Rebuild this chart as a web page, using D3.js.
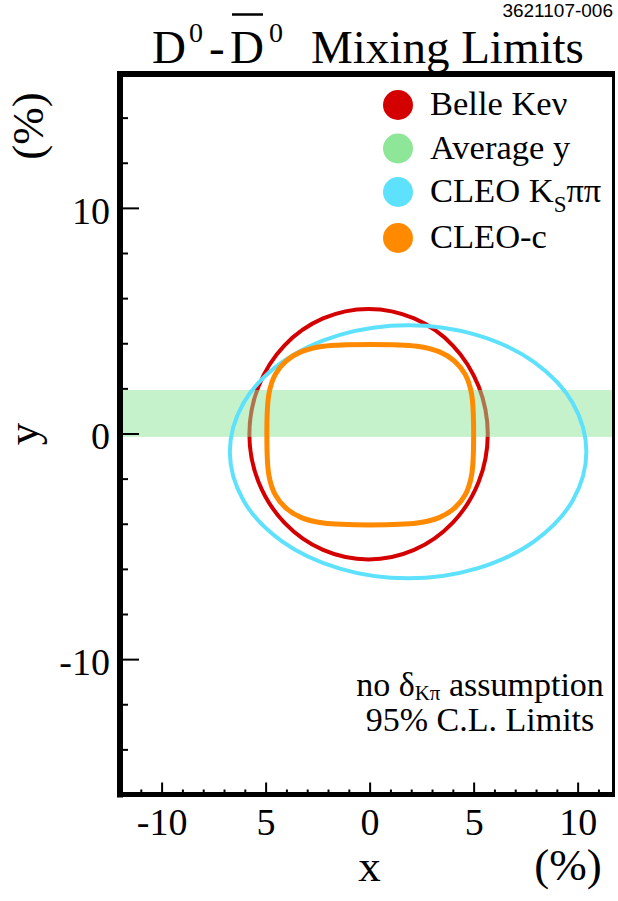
<!DOCTYPE html>
<html>
<head>
<meta charset="utf-8">
<script src="https://d3js.org/d3.v7.min.js"></script>
<style>
    body { margin: 0; background: white; }
    svg text { font-family: 'Liberation Serif', 'Times New Roman', serif; fill: black; }
</style>
</head>
<body>
<svg id="chart" width="618" height="901"></svg>
<script>
    // axis ticks
    var xMajor = [-10, -5, 0, 5, 10];
    var xMajorLabels = ['-10', '5', '0', '5', '10'];
    var xMinor = [-11, -9, -8, -7, -6, -4, -3, -2, -1, 1, 2, 3, 4, 6, 7, 8, 9, 11];
    var yMajor = [-10, 0, 10];
    var yMajorLabels = ['-10', '0', '10'];
    var yMinor = [-14, -12, -8, -6, -4, -2, 2, 4, 6, 8, 12, 14];

    // legend
    var legendNames = ['Belle Keν', 'Average y', 'CLEO K', 'CLEO-c'];
    var legendColors = ['#d40000', '#8ee698', '#5ee1fc', '#ff8a00'];

    // average y band (%)
    var bandY = [-0.15, 1.93];

    // Belle K e nu 95% contour (x %, y %)
    var belleX = [5.68, 5.24, 4.0, 2.14, -0.05, -2.24, -4.1, -5.34, -5.78, -5.34, -4.1, -2.24, -0.05, 2.14, 4.0, 5.24];
    var belleY = [-0.03, 2.09, 3.9, 5.10, 5.52, 5.10, 3.9, 2.09, -0.03, -2.15, -3.95, -5.16, -5.58, -5.16, -3.95, -2.15];

    // CLEO Ks pi pi contour
    var ksX = [10.42, 9.77, 7.91, 5.13, 1.85, -1.43, -4.21, -6.07, -6.72, -6.07, -4.21, -1.43, 1.85, 5.13, 7.91, 9.77];
    var ksY = [-0.81, 1.34, 3.16, 4.37, 4.80, 4.37, 3.16, 1.34, -0.81, -2.96, -4.78, -5.99, -6.42, -5.99, -4.78, -2.96];

    // CLEO-c contour
    var ccX = [5.0, 4.90, 4.60, 4.08, 3.34, 2.28, 0.03, -2.22, -3.28, -4.02, -4.54, -4.84, -4.94, -4.84, -4.54, -4.02, -3.28, -2.22, 0.03, 2.28, 3.34, 4.08, 4.60, 4.90];
    var ccY = [-0.05, 1.76, 2.61, 3.21, 3.63, 3.87, 3.95, 3.87, 3.63, 3.21, 2.61, 1.76, -0.05, -1.86, -2.71, -3.31, -3.73, -3.97, -4.05, -3.97, -3.73, -3.31, -2.71, -1.86];

    var svg = d3.select('#chart');
    var x = d3.scaleLinear().domain([-12, 11.7]).range([120, 613]);
    var y = d3.scaleLinear().domain([-16, 16]).range([794.5, 72.5]);

    function pts(xs, ys) { return xs.map(function (v, i) { return [v, ys[i]]; }); }
    var line = d3.line()
        .x(function (d) { return x(d[0]); })
        .y(function (d) { return y(d[1]); })
        .curve(d3.curveCatmullRomClosed.alpha(0.5));

    // contours and band
    svg.append('path').attr('d', line(pts(belleX, belleY)))
        .attr('fill', 'none').attr('stroke', legendColors[0]).attr('stroke-width', 4);
    svg.append('rect')
        .attr('x', x(-12)).attr('width', x(11.7) - x(-12))
        .attr('y', y(bandY[1])).attr('height', y(bandY[0]) - y(bandY[1]))
        .attr('fill', legendColors[1]).attr('fill-opacity', 0.5);
    svg.append('path').attr('d', line(pts(ksX, ksY)))
        .attr('fill', 'none').attr('stroke', legendColors[2]).attr('stroke-width', 4);
    svg.append('path').attr('d', line(pts(ccX, ccY)))
        .attr('fill', 'none').attr('stroke', legendColors[3]).attr('stroke-width', 5);

    // axes, ticks pointing inwards
    var yAx = svg.append('g').attr('transform', 'translate(' + x(-12) + ',0)')
        .call(d3.axisLeft(y).tickValues(yMajor).tickSize(-19).tickPadding(10)
            .tickFormat(function (d, i) { return yMajorLabels[i]; }));
    svg.append('g').attr('transform', 'translate(' + x(-12) + ',0)')
        .call(d3.axisLeft(y).tickValues(yMinor).tickSize(-8).tickFormat(''));
    var xAx = svg.append('g').attr('transform', 'translate(0,' + y(-16) + ')')
        .call(d3.axisBottom(x).tickValues(xMajor).tickSize(-12).tickPadding(14)
            .tickFormat(function (d, i) { return xMajorLabels[i]; }));
    svg.append('g').attr('transform', 'translate(0,' + y(-16) + ')')
        .call(d3.axisBottom(x).tickValues(xMinor).tickSize(-5).tickFormat(''));
    svg.selectAll('.domain').remove();
    svg.selectAll('.tick line').attr('stroke', 'black').attr('stroke-width', 2);
    svg.selectAll('.tick text').attr('font-size', 38)
        .attr('font-family', "'Liberation Serif', 'Times New Roman', serif");
    yAx.selectAll('.tick text').attr('dy', '0.4em');

    // frame
    var fr = { l: 120, r: 613.5, t: 74, b: 794.5 };
    svg.append('line').attr('x1', fr.l).attr('x2', fr.l).attr('y1', fr.t - 3).attr('y2', fr.b + 3)
        .attr('stroke', 'black').attr('stroke-width', 6);
    svg.append('line').attr('x1', fr.l - 3).attr('x2', fr.r + 1.5).attr('y1', fr.b).attr('y2', fr.b)
        .attr('stroke', 'black').attr('stroke-width', 5);
    svg.append('line').attr('x1', fr.l - 3).attr('x2', fr.r + 1.5).attr('y1', fr.t).attr('y2', fr.t)
        .attr('stroke', 'black').attr('stroke-width', 6);
    svg.append('line').attr('x1', fr.r).attr('x2', fr.r).attr('y1', fr.t).attr('y2', fr.b)
        .attr('stroke', 'black').attr('stroke-width', 3);

    // title: D0 - Dbar0 Mixing Limits
    var tg = svg.append('g').attr('font-size', 47);
    tg.append('text').attr('x', 152).attr('y', 63).text('D');
    tg.append('text').attr('x', 189).attr('y', 42).attr('font-size', 28).text('0');
    tg.append('text').attr('x', 209).attr('y', 63).text('-');
    tg.append('text').attr('x', 230).attr('y', 63).text('D');
    tg.append('line').attr('x1', 232).attr('x2', 263).attr('y1', 14.5).attr('y2', 14.5)
        .attr('stroke', 'black').attr('stroke-width', 2.5);
    tg.append('text').attr('x', 269).attr('y', 42).attr('font-size', 28).text('0');
    tg.append('text').attr('x', 311).attr('y', 63).text('Mixing Limits');

    svg.append('text').attr('x', 613).attr('y', 17).attr('text-anchor', 'end')
        .attr('font-size', 19).style('font-family', "'Liberation Sans', Arial, sans-serif")
        .text('3621107-006');

    // legend
    var leg = svg.append('g').selectAll('g').data(legendNames).join('g')
        .attr('transform', function (d, i) { return 'translate(398,' + [105, 148.5, 192, 238][i] + ')'; });
    leg.append('circle').attr('r', 15).attr('fill', function (d, i) { return legendColors[i]; });
    var lt = leg.append('text').attr('x', 32).attr('y', 10).attr('font-size', 34.5);
    lt.append('tspan').text(function (d) { return d; });
    lt.filter(function (d, i) { return i === 2; }).each(function () {
        var t = d3.select(this);
        t.append('tspan').attr('font-size', 23).attr('dy', 10).text('S');
        t.append('tspan').attr('dy', -10).text('ππ');
    });

    // notes
    var n1 = svg.append('text').attr('x', 480).attr('y', 696).attr('text-anchor', 'middle').attr('font-size', 34);
    n1.append('tspan').text('no δ');
    n1.append('tspan').attr('font-size', 21).attr('dy', 4).text('Kπ');
    n1.append('tspan').attr('dy', -4).text(' assumption');
    svg.append('text').attr('x', 480).attr('y', 731).attr('text-anchor', 'middle').attr('font-size', 34)
        .text('95% C.L. Limits');

    // axis titles
    svg.append('text').attr('x', x(0)).attr('y', 881).attr('text-anchor', 'middle').attr('font-size', 45).text('x');
    svg.append('text').attr('x', 568).attr('y', 880).attr('text-anchor', 'middle').attr('font-size', 45).text('(%)');
    svg.append('text').attr('transform', 'translate(38,434) rotate(-90)').attr('text-anchor', 'middle')
        .attr('font-size', 45).text('y');
    svg.append('text').attr('transform', 'translate(43,126) rotate(-90)').attr('text-anchor', 'middle')
        .attr('font-size', 45).text('(%)');
</script>
</body>
</html>
